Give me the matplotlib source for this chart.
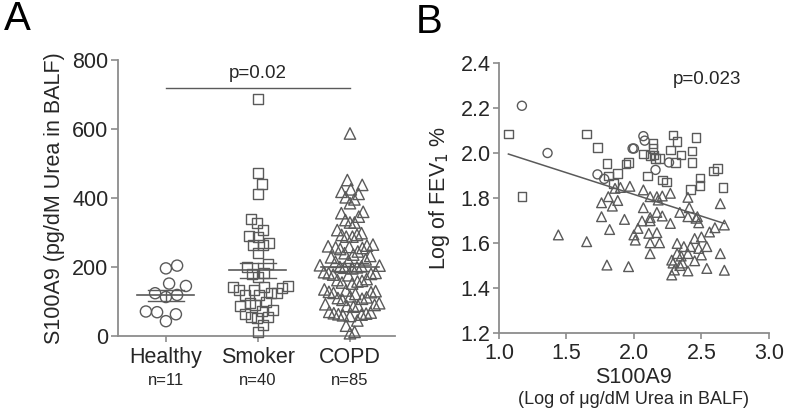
import numpy as np
import matplotlib
matplotlib.use("Agg")
import matplotlib.pyplot as plt
import matplotlib.transforms as mtransforms

plt.rcParams['font.family'] = ['Liberation Sans', 'DejaVu Sans']

# ---- panel A data (pg/dM urea in BALF) ----
groups = ['Healthy', 'Smoker', 'COPD']
group_n = ['n=11', 'n=40', 'n=85']
healthy = [204, 196, 145, 152, 119, 113, 124, 69, 63, 71, 43]
smoker = [688, 473, 442, 412, 338, 328, 307, 288, 291, 269, 264, 264, 242,
          208, 201, 182, 180, 172, 146, 143, 141, 138, 133, 133, 126, 124,
          119, 119, 100, 95, 90, 87, 75, 73, 64, 56, 56, 51, 32, 11]
copd = [587, 452, 438, 425, 418, 412, 402, 396, 385, 360, 356, 346, 336, 329,
        329, 307, 298, 293, 293, 288, 288,
        262, 258, 255, 260, 252, 257, 265,
        245, 240, 236, 232, 228,
        222, 218, 215,
        205, 200, 198, 202, 196, 204, 199,
        185, 182, 178, 180, 176, 183,
        162, 158, 155, 160, 152, 165,
        135, 130, 128, 125, 132, 127, 122,
        115, 110, 105, 108, 112,
        95, 92, 88, 85, 90, 87,
        70, 66, 62, 60, 58, 63, 65, 68,
        45, 30, 12, 8]
group_mean = [118, 191, 200]
group_sem = [16, 22, 13]
p_value_a = 'p=0.02'
p_bar_level = 720

# ---- panel B data (log S100A9 vs log FEV1 %) ----
circ_x = [1.17, 1.36, 1.73, 1.78, 1.99, 2.00, 2.07, 2.08, 2.16, 2.26]
circ_y = [2.21, 2.00, 1.905, 1.885, 2.02, 2.02, 2.075, 2.055, 1.925, 1.958]
sq_x = [1.07, 1.17, 1.65, 1.73, 1.80, 1.81, 1.85, 1.88, 1.94, 1.96, 2.07,
        2.10, 2.14, 2.14, 2.15, 2.19, 2.21, 2.24, 2.27, 2.29, 2.32, 2.31,
        2.35, 2.43, 2.43, 2.46, 2.42, 2.49, 2.49, 2.59, 2.62, 2.66, 2.12, 2.16]
sq_y = [2.084, 1.806, 2.084, 2.024, 1.954, 1.898, 1.865, 1.91, 1.951, 1.958,
        1.995, 1.898, 2.043, 2.020, 1.991, 1.976, 1.88, 1.872, 2.013, 2.080,
        2.050, 1.958, 1.991, 2.009, 1.958, 2.070, 1.837, 1.889, 1.855, 1.92,
        1.932, 1.846, 1.99, 1.975]
tri_x = [1.44, 1.65, 1.80, 1.96, 1.76, 1.76, 1.81, 1.84, 1.88, 1.82, 1.90,
         1.97, 1.86, 1.93, 2.07, 2.07, 2.06, 2.03, 2.00, 2.01, 2.12, 2.17,
         2.18, 2.12, 2.12, 2.11, 2.12, 2.17, 2.19, 2.12, 2.21, 2.21, 2.27,
         2.27, 2.34, 2.32, 2.28, 2.29, 2.30, 2.28, 2.37, 2.35, 2.36, 2.40,
         2.40, 2.41, 2.40, 2.40, 2.46, 2.48, 2.47, 2.45, 2.48, 2.50, 2.54,
         2.54, 2.56, 2.60, 2.64, 2.64, 2.67, 2.67, 2.50, 2.45, 2.34, 2.42,
         2.32, 2.17]
tri_y = [1.636, 1.606, 1.502, 1.495, 1.717, 1.779, 1.806, 1.764, 1.789, 1.660,
         1.847, 1.852, 1.843, 1.705, 1.836, 1.757, 1.698, 1.665, 1.636, 1.613,
         1.806, 1.806, 1.791, 1.713, 1.699, 1.643, 1.601, 1.646, 1.601, 1.553,
         1.72, 1.809, 1.821, 1.687, 1.736, 1.598, 1.524, 1.511, 1.480, 1.458,
         1.584, 1.542, 1.511, 1.553, 1.803, 1.757, 1.717, 1.476, 1.710, 1.690,
         1.717, 1.62, 1.576, 1.547, 1.584, 1.487, 1.649, 1.668, 1.775, 1.553,
         1.479, 1.680, 1.627, 1.521, 1.50, 1.584, 1.553, 1.736]
fit_x = [1.07, 2.67]
fit_slope = -0.193
fit_icept = 2.202
p_value_b = 'p=0.023'

edge = '#5a5a5a'
axis_col = '#8c8c8c'
text_col = '#262626'


def swarm(vals, d_px, px_per_unit, half_width_px):
    # simple beeswarm, then squeezed to the given half width (pixels)
    ys = np.asarray(vals, float) * px_per_unit
    offs = np.zeros(len(ys))
    placed = []
    for i in np.argsort(ys):
        y = ys[i]
        found = None
        k = 0
        while found is None:
            for x in ([0.0] if k == 0 else [k * 0.5, -k * 0.5]):
                if all((x - px) ** 2 + (y - py) ** 2 >= d_px ** 2 for px, py in placed):
                    found = x
                    break
            k += 1
        placed.append((found, y))
        offs[i] = found
    widest = np.abs(offs).max()
    if widest > 0:
        offs = offs * half_width_px / widest
    return offs


fig = plt.figure(figsize=(7.87, 4.16), dpi=100)

# ================= panel A =================
axA = fig.add_axes([0.150, 0.1923, 0.352, 0.6635])
markers = ['o', 's', '^']
sizes = [8.0, 7.2, 8.2]
half_widths = [20, 30, 30]
for i, vals in enumerate([healthy, smoker, copd]):
    offs = swarm(vals, 14.0, 0.345, half_widths[i]) / 92.0
    axA.scatter(i + offs, vals, marker=markers[i], s=sizes[i] ** 2,
                facecolors='none', edgecolors=edge, linewidths=1.0,
                clip_on=False, zorder=3)
    m, e = group_mean[i], group_sem[i]
    axA.plot([i - 0.31, i + 0.31], [m, m], color=edge, lw=1.2, zorder=4)
    axA.plot([i - 0.2, i + 0.2], [m + e, m + e], color=edge, lw=1.0, zorder=4)
    axA.plot([i - 0.2, i + 0.2], [m - e, m - e], color=edge, lw=1.0, zorder=4)
    axA.plot([i, i], [m - e, m + e], color=edge, lw=1.0, zorder=4)

axA.plot([0, 2], [p_bar_level, p_bar_level], color=edge, lw=1.0, clip_on=False)
axA.text(1, 762, p_value_a, ha='center', va='center', fontsize=13.5, color=text_col)

axA.set_xlim(-0.52, 2.49)
axA.set_ylim(0, 800)
axA.set_yticks([0, 200, 400, 600, 800])
axA.set_xticks(range(len(groups)))
axA.set_xticklabels(groups)
for s in ['top', 'right']:
    axA.spines[s].set_visible(False)
for s in ['left', 'bottom']:
    axA.spines[s].set_color(axis_col)
    axA.spines[s].set_linewidth(1.3)
axA.tick_params(axis='both', colors=axis_col, labelcolor=text_col,
                labelsize=15.5, length=5, width=1.2, pad=2)
axA.tick_params(axis='x', length=4, pad=4)
axA.set_ylabel('S100A9 (pg/dM Urea in BALF)', fontsize=15.5, color=text_col,
               labelpad=5)
transA = mtransforms.blended_transform_factory(axA.transData, axA.transAxes)
for i, lab in enumerate(group_n):
    axA.text(i, -0.163, lab, transform=transA, ha='center', va='center',
             fontsize=12, color=text_col)
fig.text(0.005, 0.955, 'A', fontsize=29, color='black', va='center')

# ================= panel B =================
axB = fig.add_axes([0.634, 0.1995, 0.343, 0.649])
axB.scatter(circ_x, circ_y, marker='o', s=6.5 ** 2, facecolors='none',
            edgecolors=edge, linewidths=1.0, zorder=3)
axB.scatter(sq_x, sq_y, marker='s', s=6.2 ** 2, facecolors='none',
            edgecolors=edge, linewidths=1.0, zorder=3)
axB.scatter(tri_x, tri_y, marker='^', s=7.0 ** 2, facecolors='none',
            edgecolors=edge, linewidths=1.0, zorder=3)
fx = np.array(fit_x)
axB.plot(fx, fit_icept + fit_slope * fx, color=edge, lw=1.1, zorder=4)
axB.text(2.54, 2.325, p_value_b, ha='center', va='center', fontsize=13.5,
         color=text_col)

axB.set_xlim(1.0, 3.0)
axB.set_ylim(1.2, 2.4)
axB.set_xticks([1.0, 1.5, 2.0, 2.5, 3.0])
axB.set_yticks([1.2, 1.4, 1.6, 1.8, 2.0, 2.2, 2.4])
axB.xaxis.set_major_formatter(plt.FormatStrFormatter('%.1f'))
axB.yaxis.set_major_formatter(plt.FormatStrFormatter('%.1f'))
for s in ['top', 'right']:
    axB.spines[s].set_visible(False)
for s in ['left', 'bottom']:
    axB.spines[s].set_color(axis_col)
    axB.spines[s].set_linewidth(1.3)
axB.tick_params(axis='both', colors=axis_col, labelcolor=text_col,
                labelsize=15.5, length=4, width=1.2, pad=2)
axB.tick_params(axis='x', pad=3)
axB.set_ylabel('Log of FEV$_1$ %', fontsize=15.5, color=text_col, labelpad=6)
axB.text(0.5, -0.163, 'S100A9', transform=axB.transAxes, ha='center',
         va='center', fontsize=15.5, color=text_col)
axB.text(0.5, -0.248, '(Log of \u03bcg/dM Urea in BALF)', transform=axB.transAxes,
         ha='center', va='center', fontsize=13, color=text_col)
fig.text(0.528, 0.948, 'B', fontsize=29, color='black', va='center')

fig.savefig('out.png', dpi=100)
